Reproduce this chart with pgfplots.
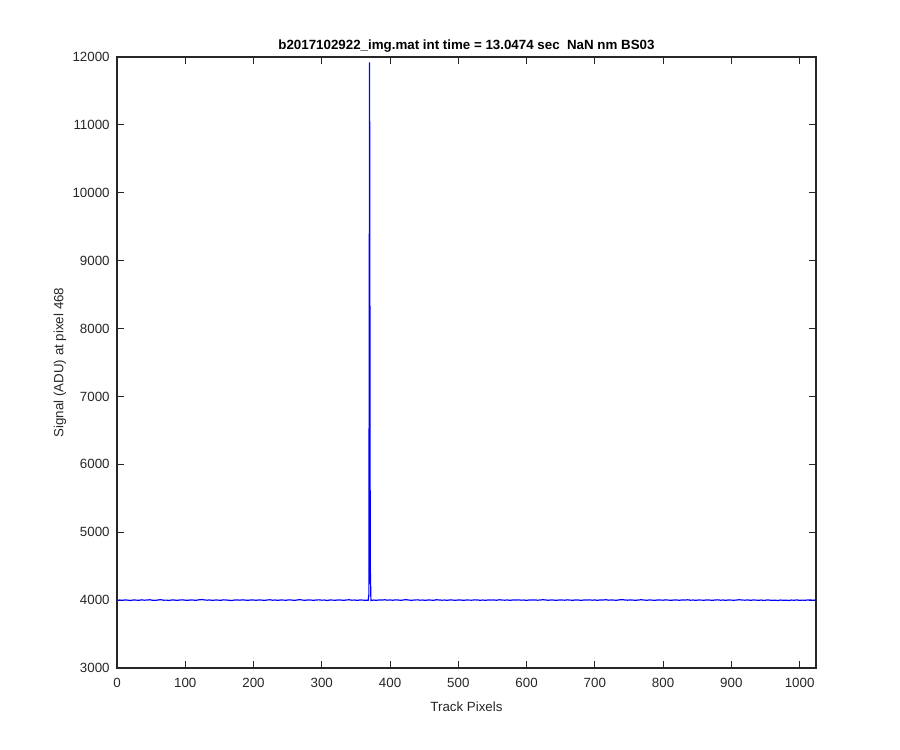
\documentclass[border=0pt]{standalone}
\usepackage{pgfplots}
\pgfplotsset{compat=1.18}
\usepackage{fontspec}
\setmainfont{Liberation Sans}
\definecolor{axgray}{gray}{0.15}
\begin{document}
\begin{tikzpicture}
\path (-87.75pt,-61.5pt) rectangle (587.25pt,501pt);
\begin{axis}[
  at={(0pt,0pt)}, anchor=south west,
  scale only axis, width=524.25pt, height=458.25pt,
  xmin=0, xmax=1024, ymin=3000, ymax=12000,
  xtick={0,100,...,1000}, ytick={3000,4000,...,12000},
  scaled y ticks=false, scaled x ticks=false,
  /pgf/number format/1000 sep={},
  /pgf/number format/assume math mode=true,
  tick align=inside, major tick length=5pt,
  axis line style={axgray, line width=0.8pt},
  every tick/.style={axgray, line width=0.8pt},
  tick label style={font=\fontsize{10}{12}\selectfont, text=axgray},
  xticklabel style={yshift=-4pt},
  yticklabel style={xshift=-2pt},
  label style={font=\fontsize{10}{12}\selectfont, text=axgray},
  xlabel={Track Pixels},
  ylabel={Signal (ADU) at pixel 468},
  xlabel style={yshift=-4pt},
  ylabel style={yshift=-2pt},
  title={\textbf{b2017102922\_img.mat int time = 13.0474 sec\ \ NaN nm BS03}},
  title style={font=\fontsize{10}{12}\selectfont, yshift=-6pt},
]
\addplot[color=blue, line width=0.9pt, mark=none] coordinates {
(0,3996)(4,4001)(8,3998)(12,4003)(16,3999)(20,3995)(24,4002)(28,4000)(32,3997)(36,4004)
(40,3999)(44,4001)(48,4005)(52,3998)(56,3996)(60,4002)(64,4006)(68,3999)(72,4000)(76,3995)
(80,4002)(84,4001)(88,3996)(92,4002)(96,4004)(100,3999)(104,3997)(108,4003)(112,4000)(116,3998)
(120,4004)(124,4008)(128,4003)(132,3999)(136,4002)(140,3996)(144,4001)(148,4000)(152,3997)(156,4004)
(160,4002)(164,3998)(168,3994)(172,4001)(176,4003)(180,3999)(184,4004)(188,4000)(192,3997)(196,4002)
(200,4001)(204,3998)(208,4003)(212,4000)(216,3996)(220,4002)(224,4005)(228,3999)(232,4001)(236,3997)
(240,4003)(244,4000)(248,3998)(252,4004)(256,4001)(260,3996)(264,4002)(268,4007)(272,4000)(276,3998)
(280,4003)(284,4001)(288,3997)(292,4002)(296,4004)(300,3999)(304,4001)(308,3995)(312,4002)(316,4000)
(320,3998)(324,4003)(328,4001)(332,3997)(336,4002)(340,4005)(344,3999)(348,4001)(352,3996)(356,4002)
(360,4000)(364,3998)
(368,3999)(369,4080)(370,11920)(371,4500)(372,3994)
(376,4001)(380,3997)(384,4003)(388,4000)(392,4005)(396,3999)(400,4002)(404,3998)(408,4004)(412,4001)
(416,3997)(420,4003)(424,4006)(428,4000)(432,3998)(436,4002)(440,4004)(444,3999)(448,4001)(452,3996)
(456,4003)(460,4000)(464,3998)(468,4005)(472,4002)(476,3999)(480,4001)(484,3997)(488,4004)(492,4000)
(496,3998)(500,4002)(504,4001)(508,3996)(512,4003)(516,4000)(520,3999)(524,4004)(528,4002)(532,3998)
(536,4001)(540,3997)(544,4003)(548,4000)(552,4002)(556,3998)(560,4005)(564,4001)(568,3999)(572,4002)
(576,3997)(580,4003)(584,4000)(588,4004)(592,3999)(596,4001)(600,3996)(604,4002)(608,4000)(612,4003)
(616,3999)(620,4001)(624,4006)(628,4002)(632,3998)(636,4003)(640,4000)(644,3997)(648,4002)(652,4001)
(656,3999)(660,4004)(664,4000)(668,3998)(672,4003)(676,4001)(680,3996)(684,4002)(688,4000)(692,4004)
(696,3999)(700,4002)(704,3997)(708,4003)(712,4001)(716,4006)(720,3999)(724,4002)(728,4000)(732,3998)
(736,4004)(740,4007)(744,4002)(748,3999)(752,4003)(756,4000)(760,3997)(764,4002)(768,4005)(772,4001)
(776,3998)(780,4002)(784,4000)(788,3996)(792,4003)(796,4001)(800,3999)(804,4004)(808,4000)(812,3997)
(816,4002)(820,4001)(824,3998)(828,4003)(832,4000)(836,4005)(840,3999)(844,4001)(848,3997)(852,4002)
(856,4000)(860,3998)(864,4003)(868,4001)(872,3996)(876,4002)(880,4004)(884,3999)(888,4001)(892,3997)
(896,4003)(900,4000)(904,3998)(908,4002)(912,4005)(916,4001)(920,3999)(924,4003)(928,3997)(932,4002)
(936,4000)(940,3998)(944,4001)(948,3995)(952,4002)(956,4000)(960,3996)(964,3999)(968,3994)(972,4001)
(976,3997)(980,3999)(984,3995)(988,4001)(992,3998)(996,4003)(1000,3996)(1004,4000)(1008,3998)(1012,4002)
(1016,4001)(1020,3999)(1024,4002)
};
\end{axis}
\end{tikzpicture}
\end{document}
